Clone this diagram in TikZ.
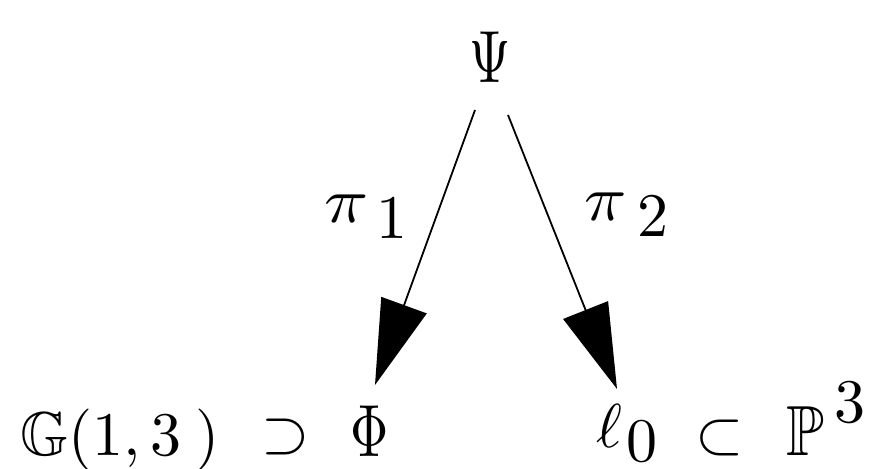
\documentclass[tikz,border=0pt]{standalone}
\usepackage{amssymb}
\usepackage{graphicx}
\usetikzlibrary{arrows.meta,calc}
\newcommand{\glyph}[1]{\scalebox{6.2}{#1}}
\newcommand{\glyphs}[3]{\scalebox{#1}[#2]{#3}}
\tikzset{
  big/.style={inner sep=0pt, outer sep=0pt},
  arr/.style={line width=1.8pt, -{Triangle[length=85pt,width=48pt]}}
}
\begin{document}
\begin{tikzpicture}[x=1pt,y=-1pt]
\useasboundingbox (0,0) rectangle (869,468);
% top
\node[big, anchor=base] (psi) at (490,83) {\glyphs{5.3}{7.4}{$\Psi$}};
% labels
\node[big, anchor=base west] (pi1) at (324,222) {\glyphs{7.3}{6.4}{$\pi$}\hspace{8pt}\raisebox{-16pt}{\glyph{$1$}}};
\node[big, anchor=base west] (pi2) at (584,220) {\glyphs{7.0}{6.4}{$\pi$}\hspace{11pt}\raisebox{-16pt}{\glyph{$2$}}};
% bottom left
\node[big, anchor=base west] (grass) at (20,455) {\glyph{$\mathbb{G}(1,3\mkern4mu)$}};
\node[big, anchor=base] (sup) at (286,452) {\glyph{$\supset$}};
\node[big, anchor=base] (phi) at (370,456) {\glyphs{5.3}{7.4}{$\Phi$}};
% bottom right
\node[big, anchor=base west] (l0) at (596,447) {\glyph{$\ell$}\hspace{5pt}\raisebox{-14pt}{\glyph{$0$}}};
\node[big, anchor=base] (sub) at (720,453) {\glyph{$\subset$}};
\node[big, anchor=base west] (proj) at (786,455) {\glyphs{6.2}{7.1}{$\mathbb{P}$}\hspace{11pt}\raisebox{33pt}{\glyph{$3$}}};
% arrows
\draw[arr] ($(psi.base)+(-15,27)$) -- ($(phi.base)+(5,-71)$);
\draw[arr] ($(psi.base)+(18,32)$) -- ($(l0.base west)+(21,-58)$);
\end{tikzpicture}
\end{document}
